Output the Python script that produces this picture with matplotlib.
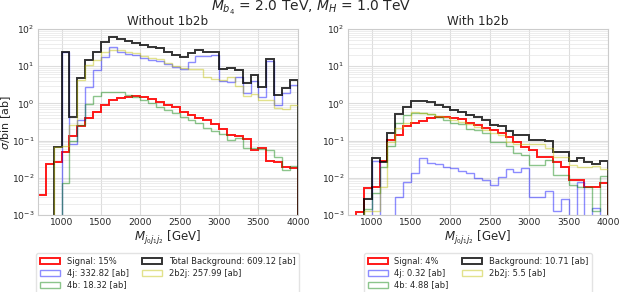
import numpy as np
import matplotlib
matplotlib.use("Agg")
import matplotlib.pyplot as plt

# ---------------- data (sigma per 100 GeV bin, ab) ----------------
bin_edges = np.arange(700, 4001, 100)

# Left panel: without 1b2b
sig_L = [0.0035, 0.024, 0.026, 0.048, 0.13, 0.24, 0.40, 0.60, 0.90, 1.23, 1.42, 1.52, 1.58,
         1.46, 1.29, 1.11, 0.90, 0.79, 0.60, 0.49, 0.40, 0.35, 0.27, 0.20, 0.14, 0.13, 0.11,
         0.055, 0.062, 0.028, 0.027, 0.020, 0.018]
j4_L = [0, 0, 0, 24.0, 0.08, 0.35, 2.7, 8.0, 17.5, 33.0, 24.0, 21.5, 19.5, 16.8, 14.8, 13.8,
        11.1, 9.2, 8.2, 13.0, 18.5, 18.5, 20.0, 4.0, 3.8, 5.0, 1.9, 4.0, 1.45, 14.0, 0.9, 1.9, 3.2]
b4_L = [0, 0, 0, 0.007, 0.10, 0.26, 0.94, 1.58, 2.0, 2.0, 2.0, 1.68, 1.5, 1.23, 1.0, 0.81,
        0.67, 0.54, 0.44, 0.36, 0.29, 0.22, 0.18, 0.148, 0.104, 0.12, 0.062, 0.062, 0.06,
        0.055, 0.035, 0.016, 0.021]
b2j2_L = [0, 0, 0.065, 0.07, 0.26, 4.2, 11.0, 15.0, 24.5, 27.0, 27.0, 24.5, 22.0, 19.0, 16.3,
          15.3, 11.8, 10.3, 8.8, 8.5, 8.2, 5.0, 4.5, 4.2, 5.0, 2.9, 1.6, 1.8, 1.25, 1.25,
          0.75, 0.70, 0.90]

# Right panel: with 1b2b
sig_R = [0, 0.0012, 0.0052, 0.0055, 0.029, 0.104, 0.14, 0.24, 0.29, 0.34, 0.40, 0.42, 0.43,
         0.41, 0.37, 0.30, 0.26, 0.215, 0.19, 0.158, 0.127, 0.092, 0.069, 0.056, 0.036,
         0.036, 0.027, 0.020, 0.0087, 0.0087, 0.0055, 0.0055, 0.0074]
j4_R = [0, 0, 0, 0.028, 0, 0, 0.0031, 0.0079, 0.013, 0.033, 0.025, 0.023, 0.019, 0.018,
        0.015, 0.013, 0.0097, 0.0089, 0.0063, 0.0107, 0.0175, 0.014, 0.018, 0.003, 0.003,
        0.0043, 0.0013, 0.0026, 0, 0.0079, 0, 0.0015, 0]
b4_R = [0, 0, 0.0014, 0.0038, 0.02, 0.07, 0.30, 0.49, 0.55, 0.55, 0.52, 0.44, 0.36, 0.30,
        0.27, 0.20, 0.19, 0.16, 0.092, 0.09, 0.07, 0.046, 0.04, 0.022, 0.022, 0.03, 0.012,
        0.012, 0.0063, 0.0058, 0.0058, 0.0013, 0.011]
b2j2_R = [0, 0, 0.0013, 0.0013, 0.0058, 0.09, 0.22, 0.30, 0.57, 0.56, 0.52, 0.45, 0.42, 0.36,
          0.31, 0.27, 0.23, 0.19, 0.158, 0.14, 0.092, 0.081, 0.081, 0.08, 0.08, 0.062, 0.035,
          0.035, 0.022, 0.02, 0.02, 0.021, 0.017]

panel_titles = ["Without 1b2b", "With 1b2b"]
sig_labels = ["Signal: 15%", "Signal: 4%"]
j4_labels = ["4j: 332.82 [ab]", "4j: 0.32 [ab]"]
b4_labels = ["4b: 18.32 [ab]", "4b: 4.88 [ab]"]
tot_labels = ["Total Background: 609.12 [ab]", "Background: 10.71 [ab]"]
b2j2_labels = ["2b2j: 257.99 [ab]", "2b2j: 5.5 [ab]"]
suptitle = r"$M_{b_4}$ = 2.0 TeV, $M_H$ = 1.0 TeV"

# ---------------- style ----------------
plt.rcParams.update({
    "font.family": "DejaVu Sans",
    "axes.edgecolor": "#cccccc",
    "text.color": "#262626",
    "axes.labelcolor": "#262626",
    "xtick.color": "#262626",
    "ytick.color": "#262626",
})

fig = plt.figure(figsize=(6.23, 2.92), dpi=100)
fig.text(0.5, 0.972, suptitle, ha="center", va="center", fontsize=10)

positions = [[0.061, 0.264, 0.417, 0.637], [0.5586, 0.264, 0.4174, 0.637]]
panels = [(sig_L, j4_L, b4_L, b2j2_L), (sig_R, j4_R, b4_R, b2j2_R)]
centers = 0.5 * (bin_edges[:-1] + bin_edges[1:])

for i, (sig, j4, b4, b2j2) in enumerate(panels):
    ax = fig.add_axes(positions[i])
    j4 = np.array(j4, float)
    b4 = np.array(b4, float)
    b2j2 = np.array(b2j2, float)
    tot = j4 + b4 + b2j2
    ax.set_yscale("log", nonpositive="clip")
    ax.hist(centers, bins=bin_edges, weights=sig, histtype="step", color="red", lw=1.4,
            alpha=0.9, label=sig_labels[i])
    ax.hist(centers, bins=bin_edges, weights=j4, histtype="step", color="blue", lw=1.0,
            alpha=0.45, label=j4_labels[i])
    ax.hist(centers, bins=bin_edges, weights=b4, histtype="step", color="green", lw=1.0,
            alpha=0.45, label=b4_labels[i])
    ax.hist(centers, bins=bin_edges, weights=tot, histtype="step", color="black", lw=1.4,
            alpha=0.8, label=tot_labels[i])
    ax.hist(centers, bins=bin_edges, weights=b2j2, histtype="step", color="y", lw=1.0,
            alpha=0.45, label=b2j2_labels[i])
    ax.set_xlim(700, 4000)
    ax.set_ylim(1e-3, 1e2)
    ax.set_xticks([1000, 1500, 2000, 2500, 3000, 3500, 4000])
    ax.grid(True, which="major", color="#dddddd", lw=0.8)
    ax.grid(True, which="minor", axis="y", color="#e6e6e6", lw=0.5)
    ax.set_axisbelow(True)
    ax.tick_params(axis="both", which="major", labelsize=6.6, length=0, pad=2.5)
    ax.tick_params(axis="both", which="minor", length=0)
    ax.set_title(panel_titles[i], fontsize=8.6, pad=3)
    ax.set_xlabel(r"$M_{j_0j_1j_2}$ [GeV]", fontsize=8.5, labelpad=1)
    if i == 0:
        ax.set_ylabel(r"$\sigma$/bin [ab]", fontsize=8)
        ax.yaxis.set_label_coords(-0.098, 0.5)
    for s in ax.spines.values():
        s.set_color("#cccccc")
    ax.legend(loc="upper center", bbox_to_anchor=(0.5, -0.185), ncol=2, fontsize=6,
              frameon=True, edgecolor="#dddddd", fancybox=True, handlelength=2.4,
              columnspacing=1.6, borderpad=0.45, labelspacing=0.32, handletextpad=0.8)

fig.savefig("out.png", dpi=100)
